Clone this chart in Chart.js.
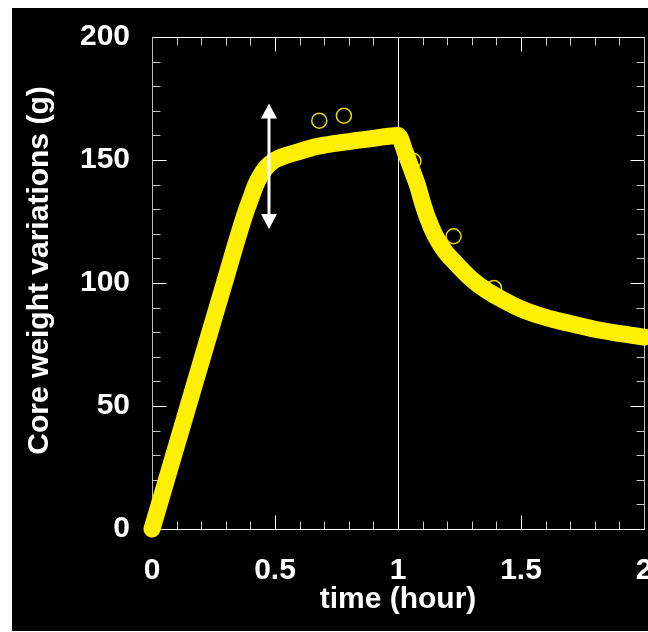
<!DOCTYPE html>
<html>
<head>
<meta charset="utf-8">
<title>Core weight variations</title>
<script src="https://cdn.jsdelivr.net/npm/chart.js@4/dist/chart.umd.min.js"></script>
<style>
  html, body { margin: 0; padding: 0; background: #fff; }
  #chart { display: block; }
</style>
</head>
<body>
<canvas id="chart" width="648" height="632"></canvas>
<script>
const runTime = [0, 0.1, 0.2, 0.3, 0.35, 0.38, 0.40, 0.42, 0.44, 0.46, 0.48, 0.50, 0.55, 0.60, 0.65, 0.70, 0.80, 0.90, 1.00,
  1.03, 1.06, 1.08, 1.10, 1.12, 1.15, 1.19, 1.24, 1.30, 1.36, 1.42, 1.50, 1.60, 1.70, 1.80, 1.90, 2.00];
const runWeight = [0, 34, 68, 102, 119, 128.5, 134, 139.5, 143.5, 146.5, 148.5, 150, 152, 153.5, 155, 156, 157.5, 158.8, 160,
  153, 145, 139.5, 132.5, 126.5, 119.5, 113, 107.5, 101.5, 97, 93.5, 89.5, 86, 83.5, 81.2, 79.5, 78];

// separate open circles
const pointTime = [0.68, 0.78, 1.063, 1.226, 1.39];
const pointWeight = [166, 168, 149.6, 119, 98];

// axes
const xTickLabels = ['0', '0.5', '1', '1.5', '2'];
const yTickLabels = ['0', '50', '100', '150', '200'];
const xMinorStep = 0.1;
const yMinorStep = 10;

// annotations (data units)
const switchTime = 1;
const arrowTime = 0.474;
const arrowRange = [122, 173];

const FONT = "'Liberation Sans', Arial, Helvetica, sans-serif";
const YELLOW = 'rgb(255, 240, 0)';

function minorTicks(min, max, step) {
  const out = [];
  const n = Math.round((max - min) / step);
  for (let i = 0; i <= n; i++) out.push({ value: Math.round((min + i * step) * 1000) / 1000 });
  return out;
}

function labelFor(list) {
  return v => {
    const hit = list.find(l => Math.abs(parseFloat(l) - v) < 1e-9);
    return hit === undefined ? '' : hit;
  };
}

function line(c, x1, y1, x2, y2) {
  c.beginPath();
  c.moveTo(x1, y1);
  c.lineTo(x2, y2);
  c.stroke();
}

const framePlugin = {
  id: 'frame',
  beforeDraw(chart) {
    const c = chart.ctx;
    c.save();
    c.fillStyle = '#000';
    c.fillRect(12, 8, chart.width - 12, chart.height - 9);
    c.restore();
  },
  beforeDatasetsDraw(chart) {
    const { ctx: c, chartArea: a, scales: { x, y } } = chart;
    const L = Math.round(a.left) + 0.5, R = Math.round(a.right) + 0.5;
    const T = Math.round(a.top) + 0.5, B = Math.round(a.bottom) + 0.5;
    c.save();
    c.lineWidth = 1;

    // vertical line where the run switches
    const sx = Math.round(x.getPixelForValue(switchTime)) + 0.5;
    c.strokeStyle = '#fff';
    line(c, sx, T, sx, B);

    // inward ticks, all four sides
    x.ticks.forEach(t => {
      const p = Math.round(x.getPixelForValue(t.value)) + 0.5;
      const major = t.label !== '';
      const len = major ? 14 : 8;
      c.strokeStyle = major ? '#fff' : '#c8c8c8';
      line(c, p, B, p, B - len);
      line(c, p, T, p, T + len);
    });
    y.ticks.forEach(t => {
      const p = Math.round(y.getPixelForValue(t.value)) + 0.5;
      const major = t.label !== '';
      const len = major ? 14 : 8;
      c.strokeStyle = major ? '#fff' : '#c8c8c8';
      line(c, L, p, L + len, p);
      line(c, R, p, R - len, p);
    });

    // frame
    c.strokeStyle = '#fff';
    line(c, L, T, R, T);
    line(c, L, B, R, B);
    c.strokeStyle = '#bdbdbd';
    line(c, L, T, L, B);
    line(c, R, T, R, B);
    c.restore();
  },
  afterDatasetsDraw(chart) {
    const { ctx: c, scales: { x, y } } = chart;
    const px = Math.round(x.getPixelForValue(arrowTime));
    const top = y.getPixelForValue(arrowRange[1]);
    const bot = y.getPixelForValue(arrowRange[0]);
    const head = 15, half = 8;
    c.save();
    c.strokeStyle = '#fff';
    c.fillStyle = '#fff';
    c.lineWidth = 3;
    line(c, px, top + head - 1, px, bot - head + 1);
    c.beginPath();
    c.moveTo(px, top);
    c.lineTo(px - half, top + head);
    c.lineTo(px + half, top + head);
    c.closePath();
    c.fill();
    c.beginPath();
    c.moveTo(px, bot);
    c.lineTo(px - half, bot - head);
    c.lineTo(px + half, bot - head);
    c.closePath();
    c.fill();
    c.restore();
  }
};

const runData = runTime.map((t, i) => ({ x: t, y: runWeight[i] }));
const pointData = pointTime.map((t, i) => ({ x: t, y: pointWeight[i] }));

new Chart(document.getElementById('chart'), {
  type: 'scatter',
  data: {
    datasets: [
      {
        label: 'run',
        data: runData,
        showLine: true,
        borderColor: YELLOW,
        borderWidth: 17,
        borderCapStyle: 'round',
        borderJoinStyle: 'round',
        cubicInterpolationMode: 'monotone',
        pointRadius: 0,
        clip: false,
        order: 0
      },
      {
        label: 'points',
        data: pointData,
        showLine: false,
        pointRadius: 7.5,
        pointBorderWidth: 1.5,
        pointBorderColor: 'rgb(230, 218, 0)',
        pointBackgroundColor: 'rgba(0,0,0,0)',
        clip: false,
        order: 1
      }
    ]
  },
  options: {
    responsive: false,
    animation: false,
    layout: { autoPadding: false, padding: { left: 0, top: 37, right: 4, bottom: 0 } },
    plugins: {
      legend: { display: false },
      tooltip: { enabled: false }
    },
    scales: {
      x: {
        type: 'linear',
        min: 0,
        max: 2,
        grid: { display: false, drawTicks: false },
        border: { display: false },
        afterBuildTicks: s => { s.ticks = minorTicks(0, 2, xMinorStep); },
        afterFit: s => { s.height = 103; s.paddingLeft = 0; s.paddingRight = 0; },
        ticks: {
          autoSkip: false,
          maxRotation: 0,
          minRotation: 0,
          padding: 24,
          color: '#fff',
          font: { family: FONT, size: 30, weight: 'bold' },
          callback: labelFor(xTickLabels)
        },
        title: {
          display: true,
          text: 'time (hour)',
          color: '#fff',
          font: { family: FONT, size: 30, weight: 'bold' },
          padding: { top: 0, bottom: 14 }
        }
      },
      y: {
        type: 'linear',
        min: 0,
        max: 200,
        grid: { display: false, drawTicks: false },
        border: { display: false },
        afterBuildTicks: s => { s.ticks = minorTicks(0, 200, yMinorStep); },
        afterFit: s => { s.width = 152; s.paddingTop = 0; s.paddingBottom = 0; },
        ticks: {
          autoSkip: false,
          padding: 22,
          color: '#fff',
          font: { family: FONT, size: 30, weight: 'bold' },
          callback: labelFor(yTickLabels)
        },
        title: {
          display: true,
          // leading spaces nudge the label up to where it sits in the original
          text: '   Core weight variations (g)',
          color: '#fff',
          font: { family: FONT, size: 30, weight: 'bold' },
          padding: { top: 22, bottom: 0 }
        }
      }
    }
  },
  plugins: [framePlugin]
});
</script>
</body>
</html>
